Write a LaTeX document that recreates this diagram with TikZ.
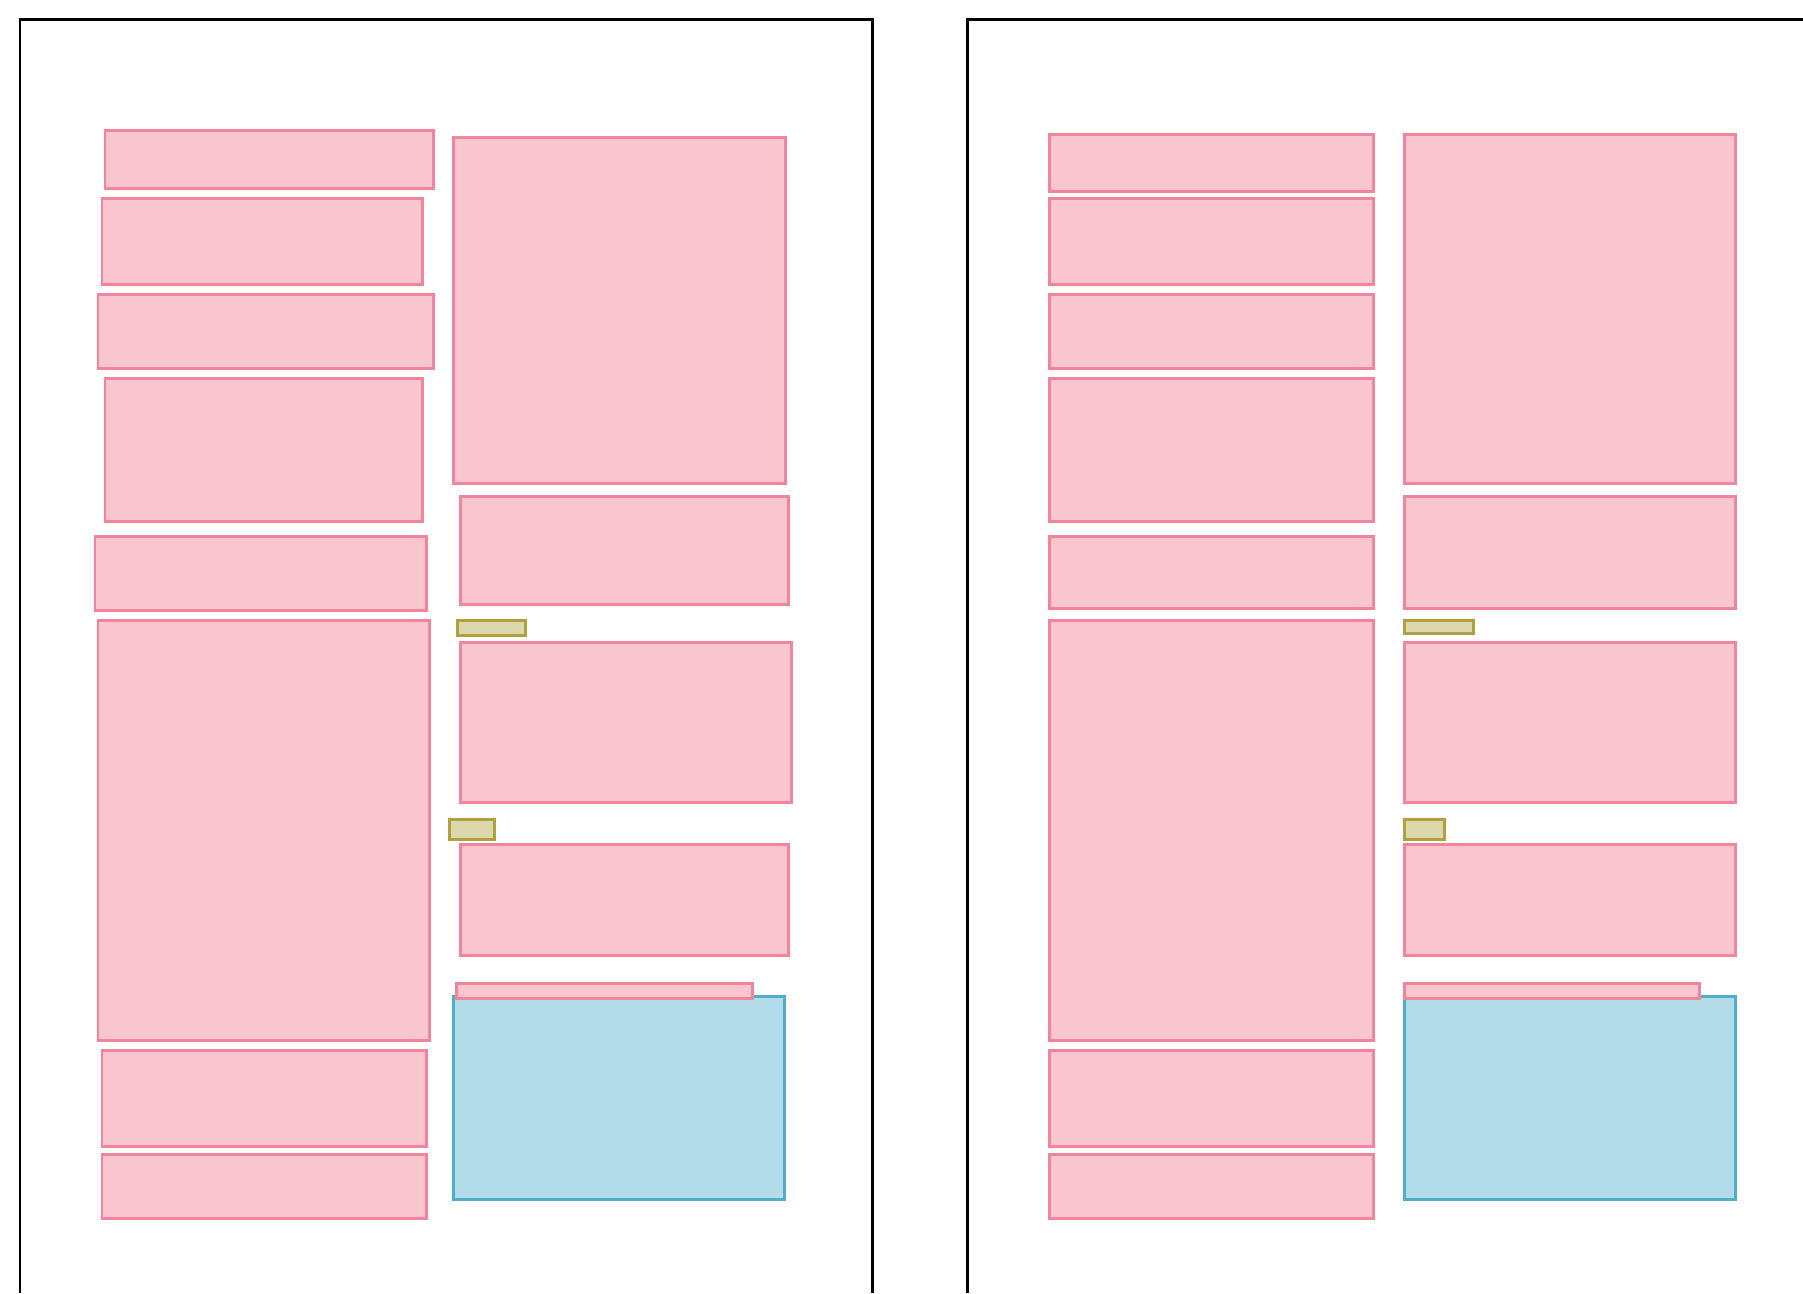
\documentclass[tikz,border=0pt]{standalone}
\usetikzlibrary{fit}
\definecolor{pinkfill}{HTML}{F9C6D0}
\definecolor{pinkline}{HTML}{F2849C}
\definecolor{olivefill}{HTML}{DDD7AE}
\definecolor{oliveline}{HTML}{AFA040}
\definecolor{bluefill}{HTML}{B3DCE9}
\definecolor{blueline}{HTML}{4FAFCB}
\tikzset{
  region/.style={draw, inner sep=0pt, outer sep=0pt, line width=0.85pt},
  textblock/.style={region, draw=pinkline, fill=pinkfill},
  pagenum/.style={region, draw=oliveline, fill=olivefill},
  figblock/.style={region, draw=blueline, fill=bluefill}
}
\begin{document}
\begin{tikzpicture}[x=0.01cm,y=-0.01cm]
\useasboundingbox (0,0) rectangle (1803,1293);
% page outlines
\draw[line width=0.6pt] (20,1293) -- (20,19.5) -- (872.5,19.5) -- (872.5,1293);
\draw[line width=0.6pt] (967.5,1293) -- (967.5,19.5) -- (1803,19.5);
% left page, first column
\node[textblock, fit={(105,130) (433,188)}] (la1) {};
\node[textblock, fit={(102,198) (422,284)}] (la2) {};
\node[textblock, fit={(98,294) (433,368)}] (la3) {};
\node[textblock, fit={(105,378) (422,521)}] (la4) {};
\node[textblock, fit={(95,536) (426,610)}] (la5) {};
\node[textblock, fit={(98,620) (429,1040)}] (la6) {};
\node[textblock, fit={(102,1050) (426,1146)}] (la7) {};
\node[textblock, fit={(102,1154) (426,1218)}] (la8) {};
% left page, second column
\node[textblock, fit={(453,137) (785,483)}] (lb1) {};
\node[textblock, fit={(460,496) (788,604)}] (lb2) {};
\node[pagenum, fit={(457,620) (525,635)}] (ln1) {};
\node[textblock, fit={(460,642) (791,802)}] (lb3) {};
\node[pagenum, fit={(449,819) (494,839)}] (ln2) {};
\node[textblock, fit={(460,844) (788,955)}] (lb4) {};
\node[figblock, fit={(453,996) (784,1199)}] (lfig) {};
\node[textblock, fit={(456,983) (752,998)}] (lb5) {};
% right page, first column
\node[textblock, fit={(1049,134) (1373,191)}] (ra1) {};
\node[textblock, fit={(1049,198) (1373,284)}] (ra2) {};
\node[textblock, fit={(1049,294) (1373,368)}] (ra3) {};
\node[textblock, fit={(1049,378) (1373,521)}] (ra4) {};
\node[textblock, fit={(1049,536) (1373,608)}] (ra5) {};
\node[textblock, fit={(1049,620) (1373,1040)}] (ra6) {};
\node[textblock, fit={(1049,1050) (1373,1146)}] (ra7) {};
\node[textblock, fit={(1049,1154) (1373,1218)}] (ra8) {};
% right page, second column
\node[textblock, fit={(1404,134) (1735,483)}] (rb1) {};
\node[textblock, fit={(1404,496) (1735,608)}] (rb2) {};
\node[pagenum, fit={(1404,620) (1473,633)}] (rn1) {};
\node[textblock, fit={(1404,642) (1735,802)}] (rb3) {};
\node[pagenum, fit={(1404,819) (1444,839)}] (rn2) {};
\node[textblock, fit={(1404,844) (1735,955)}] (rb4) {};
\node[figblock, fit={(1404,996) (1735,1199)}] (rfig) {};
\node[textblock, fit={(1404,983) (1699,998)}] (rb5) {};
\end{tikzpicture}
\end{document}
